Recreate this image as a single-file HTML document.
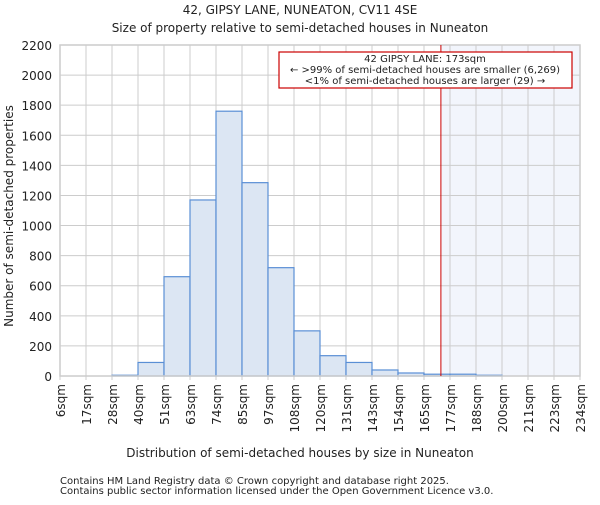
<!DOCTYPE html>
<html><head><meta charset="utf-8"><style>
body{margin:0;background:#fff;}
svg text{font-family:"DejaVu Sans","Liberation Sans",sans-serif;fill:#222;}
</style></head><body>
<svg id="chart" width="600" height="500" viewBox="0 0 600 500">
<text x="300" y="14" font-size="12" text-anchor="middle">42, GIPSY LANE, NUNEATON, CV11 4SE</text>
<text x="300" y="32" font-size="12" text-anchor="middle">Size of property relative to semi-detached houses in Nuneaton</text>
<g id="plot"></g>
<text x="300" y="457" font-size="12" text-anchor="middle">Distribution of semi-detached houses by size in Nuneaton</text>
<text transform="translate(13,216) rotate(-90)" font-size="12" text-anchor="middle">Number of semi-detached properties</text>
<text x="60" y="484" font-size="10" fill="#444">Contains HM Land Registry data © Crown copyright and database right 2025.</text>
<text x="60" y="494" font-size="10" fill="#444">Contains public sector information licensed under the Open Government Licence v3.0.</text>
</svg>
<script>
const tickLabels=["6sqm","17sqm","28sqm","40sqm","51sqm","63sqm","74sqm","85sqm","97sqm","108sqm","120sqm","131sqm","143sqm","154sqm","165sqm","177sqm","188sqm","200sqm","211sqm","223sqm","234sqm"];
const counts=[0,0,5,90,660,1170,1760,1285,720,300,135,90,40,20,12,12,5,0,0,0];
const yTicks=[0,200,400,600,800,1000,1200,1400,1600,1800,2000,2200];
const subjectBin=14.65; // 173sqm position in bin units
const L=60,R=580,T=45,B=376,yMax=2200;
const ns="http://www.w3.org/2000/svg";
const g=document.getElementById("plot");
const xs=i=>L+(R-L)*i/counts.length;
const ys=v=>B-(B-T)*v/yMax;
function mk(t,a){const e=document.createElementNS(ns,t);for(const k in a)e.setAttribute(k,a[k]);g.appendChild(e);return e;}
let e=mk("rect",{x:xs(subjectBin),y:T,width:R-xs(subjectBin),height:B-T,fill:"#f2f5fc"});


yTicks.forEach(v=>{
 let l=mk("line",{x1:L,x2:R,y1:ys(v),y2:ys(v),stroke:"#ccc","stroke-width":1});
 
 
 let t=mk("text",{x:L-8,y:ys(v)+5,"font-size":12,"text-anchor":"end"});t.textContent=v;
 
 
});
tickLabels.forEach((s,i)=>{
 let l=mk("line",{x1:xs(i),x2:xs(i),y1:T,y2:B+4,stroke:"#ccc","stroke-width":1});
 
 
 let t=mk("text",{transform:`translate(${xs(i)+5},${B+8}) rotate(-90)`,"font-size":12,"text-anchor":"end"});t.textContent=s;
 
 
});
counts.forEach((c,i)=>{
 if(c<=0)return;
 let r=mk("rect",{x:xs(i),y:ys(c),width:xs(i+1)-xs(i),height:B-ys(c),fill:"#dce6f3",stroke:"#5a8fd5","stroke-width":1.2});
 
 
});
let fr=mk("rect",{x:L,y:T,width:R-L,height:B-T,fill:"none",stroke:"#ccc","stroke-width":1.5});


let ml=mk("line",{x1:xs(subjectBin),x2:xs(subjectBin),y1:T,y2:B,stroke:"#c00","stroke-width":1});


let bx=mk("rect",{x:279,y:52,width:293,height:36,fill:"#fff",stroke:"#c00","stroke-width":1.2});


[["42 GIPSY LANE: 173sqm",62],["← >99% of semi-detached houses are smaller (6,269)",73],["<1% of semi-detached houses are larger (29) →",84]].forEach(a=>{
 let t=mk("text",{x:425,y:a[1],"font-size":10,"text-anchor":"middle"});t.textContent=a[0];
 
 
});
</script>
</body></html>
